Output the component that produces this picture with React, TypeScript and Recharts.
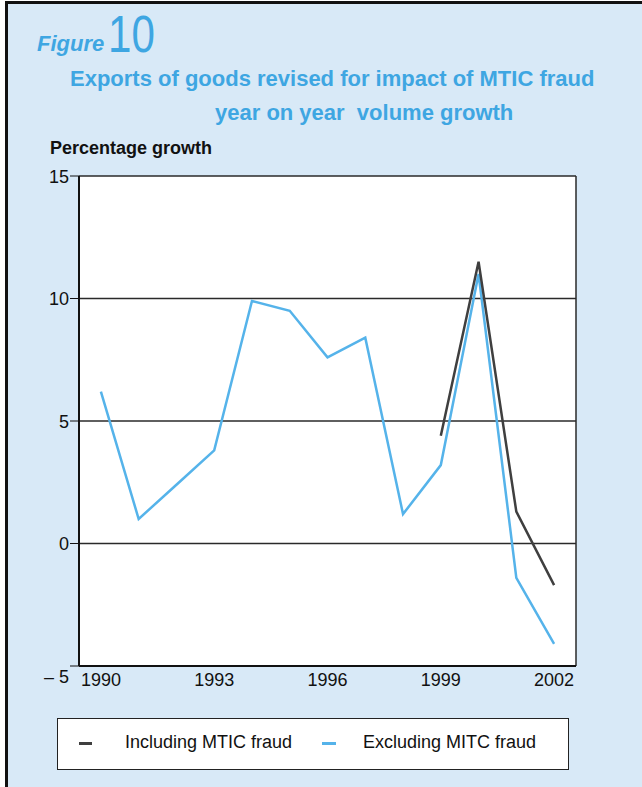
import React from 'react';
import { LineChart, Line, XAxis, YAxis, CartesianGrid, Legend } from 'recharts';

const years = [1990, 1991, 1992, 1993, 1994, 1995, 1996, 1997, 1998, 1999, 2000, 2001, 2002];
const excluding = [6.2, 1.0, 2.4, 3.8, 9.9, 9.5, 7.6, 8.4, 1.2, 3.2, 11.0, -1.4, -4.1];
const including = [null, null, null, null, null, null, null, null, null, 4.4, 11.5, 1.3, -1.7];
const xTicks = [1990, 1993, 1996, 1999, 2002];
const yTicks = [-5, 0, 5, 10, 15];
const yMinorTicks = [-4, -3, -2, -1, 1, 2, 3, 4, 6, 7, 8, 9, 11, 12, 13, 14];

const data = years.map((y, i) => ({ year: y, excl: excluding[i], incl: including[i] }));

const BG = '#d8e9f7';
const BLUE_TEXT = '#3ea6e2';
const LIGHT = '#55b3ea';
const DARK = '#3f3f3f';
const FONT = "'Liberation Sans', Arial, Helvetica, sans-serif";

const YTick = (props: any) => {
  const { x, y, payload } = props;
  const label = payload.value < 0 ? `\u2013 ${Math.abs(payload.value)}` : `${payload.value}`;
  return (
    <text x={x} y={y + (payload.value === -5 ? 10 : 0)} dy={6.5} textAnchor="end" fontSize={18} fill="#111" fontFamily={FONT}>
      {label}
    </text>
  );
};

const LegendBox = () => (
  <div style={{ position: 'relative', width: 512, height: 52, background: '#fff', border: '1.5px solid #222', boxSizing: 'border-box', fontFamily: FONT, fontSize: 18, color: '#111' }}>
    <div style={{ position: 'absolute', left: 21, top: 23, width: 13, height: 3, background: DARK }} />
    <div style={{ position: 'absolute', left: 67, top: 13 }}>Including MTIC fraud</div>
    <div style={{ position: 'absolute', left: 264, top: 23, width: 14, height: 3, background: LIGHT }} />
    <div style={{ position: 'absolute', left: 305, top: 13 }}>Excluding MITC fraud</div>
  </div>
);

export default function App() {
  return (
    <div style={{ position: 'absolute', left: 0, top: 0, width: 642, height: 787, background: '#fff' }}>
      <div style={{ position: 'absolute', left: 5, top: 1, width: 637, height: 786, background: BG, borderLeft: '3px solid #111', borderTop: '3px solid #111', boxSizing: 'border-box' }} />
      <div style={{ position: 'absolute', left: 37, top: 33, fontFamily: FONT, fontStyle: 'italic', fontWeight: 700, fontSize: 22, lineHeight: 1, color: BLUE_TEXT }}>Figure</div>
      <div style={{ position: 'absolute', left: 108, top: 8, fontFamily: FONT, fontWeight: 400, fontSize: 52, lineHeight: 1, color: BLUE_TEXT, transform: 'scaleX(0.81)', transformOrigin: 'left top' }}>10</div>
      <div style={{ position: 'absolute', left: 70, top: 68, fontFamily: FONT, fontWeight: 700, fontSize: 22, lineHeight: 1, color: BLUE_TEXT, whiteSpace: 'nowrap' }}>Exports of goods revised for impact of MTIC fraud</div>
      <div style={{ position: 'absolute', left: 215, top: 102, fontFamily: FONT, fontWeight: 700, fontSize: 22, lineHeight: 1, color: BLUE_TEXT, whiteSpace: 'pre' }}>{'year on year  volume growth'}</div>
      <div style={{ position: 'absolute', left: 50, top: 139, fontFamily: FONT, fontWeight: 700, fontSize: 18, lineHeight: 1, color: '#111' }}>Percentage growth</div>
      <div style={{ position: 'absolute', left: 0, top: 0 }}>
        <LineChart width={642} height={787} data={data} margin={{ top: 176, right: 66, bottom: 91, left: 49 }}>
          <CartesianGrid yAxisId="main" fill="#fff" stroke="#2a2a2a" strokeWidth={1.5}
            verticalCoordinatesGenerator={({ offset }: any) => [offset.left, offset.left + offset.width]} />
          <XAxis dataKey="year" type="number" domain={[1989.42, 2002.58]} ticks={xTicks} allowDataOverflow
            height={30} tickLine={false} tickMargin={1} axisLine={{ stroke: '#111', strokeWidth: 2 }}
            tick={{ fontSize: 18, fill: '#111', fontFamily: FONT }} />
          <YAxis yAxisId="main" domain={[-5, 15]} ticks={yTicks} width={30} tickSize={9} tickMargin={1}
            axisLine={{ stroke: '#111', strokeWidth: 2 }} tickLine={{ stroke: '#111' }} tick={<YTick />} />
          <YAxis yAxisId="minor" domain={[-5, 15]} ticks={yMinorTicks} mirror width={0} tickSize={4}
            axisLine={false} tick={false} tickLine={{ stroke: '#111' }} />
          <Line yAxisId="main" dataKey="excl" stroke={LIGHT} strokeWidth={2.5} dot={false} isAnimationActive={false} />
          <Line yAxisId="main" dataKey="incl" stroke={DARK} strokeWidth={2.5} dot={false} isAnimationActive={false} connectNulls={false} />
          <Legend layout="horizontal" verticalAlign="middle" align="center" content={<LegendBox />}
            wrapperStyle={{ left: 57, top: 718, width: 512, height: 52 }} />
        </LineChart>
      </div>
    </div>
  );
}
